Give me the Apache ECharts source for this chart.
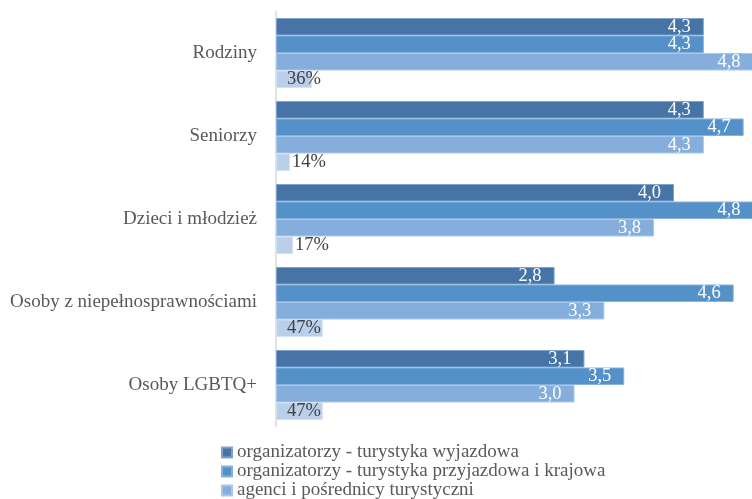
<!DOCTYPE html>
<html>
<head>
<meta charset="utf-8">
<script src="https://cdn.jsdelivr.net/npm/echarts@6/dist/echarts.min.js"></script>
<style>
  html, body { margin: 0; padding: 0; background: #fff; }
  #chart { width: 752px; height: 499px; }
</style>
</head>
<body>
<div id="chart"></div>
<script>
// Target groups (top to bottom)
const categories = ['Rodziny', 'Seniorzy', 'Dzieci i młodzież', 'Osoby z niepełnosprawnościami', 'Osoby LGBTQ+'];

// Average ratings per respondent group
const seriesNames = [
  'organizatorzy - turystyka wyjazdowa',
  'organizatorzy - turystyka przyjazdowa i krajowa',
  'agenci i pośrednicy turystyczni'
];
const outboundOrganisers = [4.3, 4.3, 4.0, 2.8, 3.1];
const domesticOrganisers = [4.3, 4.7, 4.8, 4.6, 3.5];
const agents = [4.8, 4.3, 3.8, 3.3, 3.0];

// Share of offers (percent), drawn on the same axis as a fraction
const sharePercent = [36, 14, 17, 47, 47];

const colors = ['#4674A6', '#5591C9', '#85AEDC', '#BACFEA'];
const borders = ['#7FA3CC', '#86B2DD', '#A9C8E8', '#D3E1F2'];
const FONT = '"Liberation Serif", "Times New Roman", serif';

const fmt = v => v.toFixed(1).replace('.', ',');

function ratingSeries(idx, values) {
  return {
    name: seriesNames[idx],
    type: 'bar',
    barWidth: 17.5,
    barGap: '0%',
    data: values,
    itemStyle: { color: colors[idx], borderColor: borders[idx], borderWidth: 1 },
    label: {
      show: true,
      position: 'insideRight',
      distance: 13,
      color: '#ffffff',
      fontFamily: FONT,
      fontSize: 18.5,
      formatter: p => fmt(p.value)
    }
  };
}

const shareData = sharePercent.map(p => {
  const small = p < 30;
  return {
    value: p / 100,
    label: small
      ? { position: 'right', distance: 2 }
      : { position: 'insideLeft', distance: 11 }
  };
});

const chart = echarts.init(document.getElementById('chart'), null, { renderer: 'canvas' });

chart.setOption({
  animation: false,
  backgroundColor: '#ffffff',
  grid: { left: 276, top: 11.5, height: 415, width: 497.5, outerBoundsMode: 'none', containLabel: false },
  xAxis: {
    type: 'value',
    min: 0,
    max: 5,
    show: false
  },
  yAxis: {
    type: 'category',
    inverse: true,
    data: categories,
    axisTick: { show: false },
    axisLine: { show: true, lineStyle: { color: '#D9D9D9', width: 1.5 } },
    axisLabel: { color: '#595959', fontFamily: FONT, fontSize: 19, margin: 19 }
  },
  legend: {
    data: seriesNames,
    orient: 'vertical',
    left: 221,
    top: 443,
    height: 70,
    padding: 0,
    itemWidth: 10,
    itemHeight: 10,
    itemGap: 0,
    icon: 'rect',
    textStyle: { color: '#595959', fontFamily: FONT, fontSize: 19, lineHeight: 18.5 }
  },
  series: [
    ratingSeries(0, outboundOrganisers),
    ratingSeries(1, domesticOrganisers),
    ratingSeries(2, agents),
    {
      name: 'udział',
      type: 'bar',
      barWidth: 17.5,
      barGap: '0%',
      data: shareData,
      itemStyle: { color: colors[3], borderColor: borders[3], borderWidth: 1 },
      label: {
        show: true,
        color: '#404040',
        fontFamily: FONT,
        fontSize: 18.5,
        formatter: p => Math.round(p.value * 100) + '%'
      }
    }
  ]
});
</script>
</body>
</html>
